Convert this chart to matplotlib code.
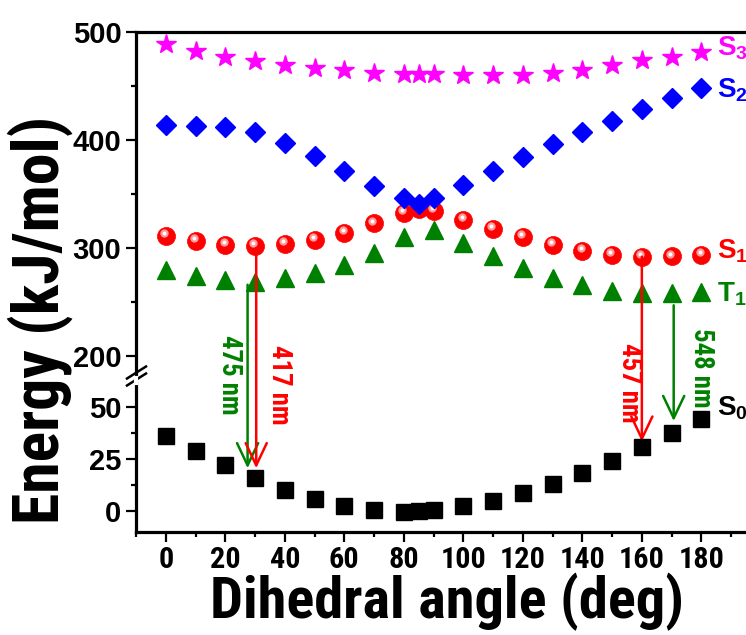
import matplotlib
matplotlib.use("Agg")
import matplotlib.pyplot as plt
from matplotlib import font_manager
from matplotlib.ticker import MultipleLocator, FixedLocator
from matplotlib.transforms import offset_copy

# dihedral angles (deg)
angles = [0, 10, 20, 30, 40, 50, 60, 70, 80, 85, 90, 100, 110, 120, 130, 140, 150, 160, 170, 180]
angles_t1 = [0, 10, 20, 30, 40, 50, 60, 70, 80, 90, 100, 110, 120, 130, 140, 150, 160, 170, 180]

# energies (kJ/mol)
s3 = [488.6, 482.0, 476.8, 472.8, 469.7, 466.9, 464.4, 462.3, 460.7, 460.7, 460.7,
      459.8, 459.8, 460.4, 462.0, 464.4, 469.0, 473.7, 476.8, 481.4]
s2 = [414.0, 412.8, 411.9, 407.2, 397.3, 385.0, 371.0, 357.8, 346.3, 340.8, 346.3,
      358.7, 371.7, 384.7, 396.4, 407.2, 418.0, 428.9, 438.8, 448.4]
s1 = [311.4, 306.7, 303.0, 302.1, 303.6, 307.7, 313.9, 322.8, 332.4, 336.0, 334.6,
      325.9, 317.6, 310.5, 303.0, 297.5, 293.4, 291.9, 292.2, 293.8]
t1 = [279.8, 274.0, 270.6, 269.0, 271.9, 276.8, 284.5, 295.6, 309.8, 316.9,
      304.3, 292.5, 281.7, 272.4, 266.2, 260.4, 258.8, 258.8, 259.7]
s0 = [36.1, 28.8, 22.0, 15.5, 9.9, 5.6, 2.4, 0.3, -0.5, -0.3, 0.3,
      2.2, 4.6, 8.3, 12.8, 17.9, 24.0, 30.8, 37.5, 44.1]

# emission arrows: angle, start energy (upper part), end energy (lower part)
arrow_x = [27.5, 30.4, 160.0, 170.7]
arrow_from = [266, 300, 292, 247]
arrow_to = [20.4, 20.4, 33.2, 43.1]
arrow_labels = ["475 nm", "417 nm", "457 nm", "548 nm"]
label_x = [21.5, 38.3, 155.7, 179.9]
label_y = [182.4, 173.0, 175.0, 189.0]

state_names = ["S$_3$", "S$_2$", "S$_1$", "T$_1$"]
state_y = [484.9, 445.9, 296.6, 257.6]
s0_label_y = 49.4

MAGENTA = "#ff00ff"
BLUE = "#0000ff"
RED = "#ff0000"
GREEN = "#008000"

# pick a narrow bold face if one is around, otherwise plain Liberation Sans
names = {f.name for f in font_manager.fontManager.ttflist}
narrow = "Liberation Sans"
for cand in ["Liberation Sans Narrow", "Arial Narrow", "Roboto Condensed", "PT Sans Narrow",
             "Archivo Narrow", "Asap Condensed"]:
    if cand in names:
        narrow = cand
        break

plt.rcParams["font.family"] = ["Liberation Sans", "DejaVu Sans"]
plt.rcParams["font.weight"] = "bold"
plt.rcParams["mathtext.fontset"] = "custom"
plt.rcParams["mathtext.rm"] = "Liberation Sans:bold"
plt.rcParams["mathtext.it"] = "Liberation Sans:bold"
plt.rcParams["mathtext.bf"] = "Liberation Sans:bold"

W, H = 746, 635
fig = plt.figure(figsize=(W / 100, H / 100), dpi=100)
renderer = fig.canvas.get_renderer()


def fit(txt, target, use_height=False):
    # scale the font so the text box gets the size measured on the reference
    bb = txt.get_window_extent(renderer)
    cur = bb.height if use_height else bb.width
    txt.set_fontsize(txt.get_fontsize() * target / cur)
    return txt.get_fontsize()


left = 136 / W
ax_top = fig.add_axes([left, 1 - 377 / H, 1 - left, (377 - 32) / H])
ax_bot = fig.add_axes([left, 1 - 531.7 / H, 1 - left, (531.7 - 383) / H])

for ax in (ax_top, ax_bot):
    ax.set_xlim(-10, 195)
    ax.patch.set_alpha(0)
    ax.spines["right"].set_visible(False)
    for s in ax.spines.values():
        s.set_linewidth(2.3)
    ax.tick_params(which="major", direction="out", length=7, width=1.6)
    ax.tick_params(which="minor", direction="out", length=3.5, width=1.6)

ax_top.set_ylim(180.6, 500)
ax_top.spines["bottom"].set_visible(False)
ax_top.tick_params(axis="x", which="both", bottom=False, labelbottom=False)
ax_top.yaxis.set_major_locator(FixedLocator([200, 300, 400, 500]))
ax_top.yaxis.set_minor_locator(FixedLocator([250, 350, 450]))

ax_bot.set_ylim(-10.1, 61.4)
ax_bot.spines["top"].set_visible(False)
ax_bot.yaxis.set_major_locator(FixedLocator([0, 25, 50]))
ax_bot.yaxis.set_minor_locator(FixedLocator([12.5, 37.5]))
ax_bot.xaxis.set_major_locator(MultipleLocator(20))
ax_bot.xaxis.set_minor_locator(FixedLocator(list(range(-10, 200, 20))))

for ax in (ax_top, ax_bot):
    for lab in ax.get_yticklabels():
        lab.set_fontsize(21)
        lab.set_fontweight("bold")
    ax.tick_params(axis="y", pad=3.5)

# x tick labels: narrow face, sized from the width of "180"
probe = fig.text(0, 0, "180", family=narrow, fontweight="bold", fontsize=23)
xt_size = fit(probe, 46)
probe.remove()
ax_bot.tick_params(axis="x", labelsize=xt_size, pad=3.5)
for lab in ax_bot.get_xticklabels():
    lab.set_family(narrow)
    lab.set_fontweight("bold")

# markers
ax_top.plot(angles, s3, ls="none", marker="*", ms=15, color=MAGENTA, mec=MAGENTA, clip_on=False, zorder=4)
ax_top.plot(angles, s2, ls="none", marker="D", ms=10.5, color=BLUE, mec=BLUE, clip_on=False, zorder=4)
ax_top.plot(angles_t1, t1, ls="none", marker="^", ms=13, color=GREEN, mec=GREEN, clip_on=False, zorder=3)
ax_top.plot(angles, s1, ls="none", marker="o", ms=13, color=RED, mec=RED, mew=0.5, clip_on=False, zorder=3)
hl = offset_copy(ax_top.transData, fig=fig, x=-1.2, y=2.0, units="points")
ax_top.plot(angles, s1, ls="none", marker="o", ms=6, color="#ff9a9a", mew=0, transform=hl, zorder=3)
ax_top.plot(angles, s1, ls="none", marker="o", ms=2.8, color="white", mew=0, transform=hl, zorder=3)
ax_bot.plot(angles, s0, ls="none", marker="s", ms=11.5, color="black", clip_on=False, zorder=4)

# arrows crossing the axis break
colors = [GREEN, RED, RED, GREEN]
for x, y0, y1, c in zip(arrow_x, arrow_from, arrow_to, colors):
    ax_bot.annotate("", xy=(x, y1), xycoords="data",
                    xytext=(x, y0), textcoords=ax_top.transData,
                    arrowprops=dict(arrowstyle="->,head_length=0.8,head_width=0.38",
                                    color=c, lw=1.8, shrinkA=0, shrinkB=0,
                                    mutation_scale=20),
                    annotation_clip=False, zorder=2)

for x, y, t, c in zip(label_x, label_y, arrow_labels, colors):
    lab = ax_top.text(x, y, t, rotation=-90, color=c, fontsize=18, family=narrow,
                      fontweight="bold", ha="center", va="center", clip_on=False, zorder=5)
    fit(lab, 80, use_height=True)

# state labels
state_colors = [MAGENTA, BLUE, RED, GREEN]
for name, y, c in zip(state_names, state_y, state_colors):
    ax_top.text(185.3, y, name, color=c, fontsize=20, fontweight="bold",
                ha="left", va="center", clip_on=False)
ax_bot.text(185.3, s0_label_y, "S$_0$", color="black", fontsize=20, fontweight="bold",
            ha="left", va="center", clip_on=False)

# break marks on the left spine
for yb in (372.5, 379.5):
    fig.add_artist(plt.Line2D([127 / W, 146 / W], [1 - (yb + 6) / H, 1 - (yb - 6) / H],
                              color="black", lw=1.8))
fig.add_artist(plt.Line2D([left, left], [1 - 377.5 / H, 1 - 382.5 / H], color="white", lw=3))

xl = fig.text(447 / W, 1 - 618 / H, "Dihedral angle (deg)", fontsize=40, family=narrow,
              fontweight="bold", ha="center", va="baseline")
fit(xl, 474)
yl = fig.text(40 / W, 1 - 320 / H, "Energy (kJ/mol)", rotation=90, fontsize=45, family=narrow,
              fontweight="bold", ha="center", va="center")
fit(yl, 408, use_height=True)

fig.savefig("out.png", dpi=100)
